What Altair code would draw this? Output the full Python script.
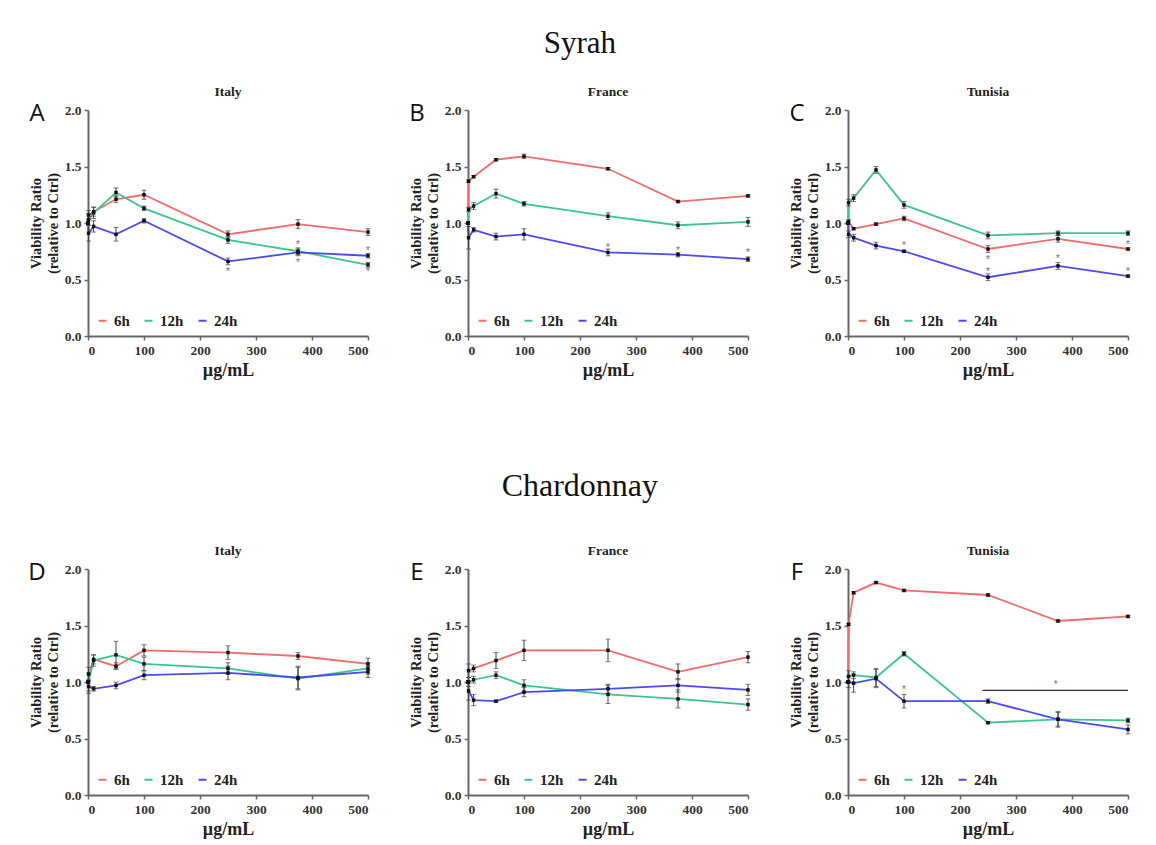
import altair as alt
import pandas as pd

SERIF = "Liberation Serif"
X = [0, 1, 10, 50, 100, 250, 375, 500]
SERIES = ["6h", "12h", "24h"]
COLORS = ["#F06B6B", "#3CC48E", "#4A4AF0"]
X_TICKS = [0, 100, 200, 300, 400, 500]
Y_TICKS = [0.0, 0.5, 1.0, 1.5, 2.0]

# ---- Syrah ----
A_6h = [1.00, 1.07, 1.10, 1.21, 1.25, 0.90, 0.99, 0.92]
A_12h = [1.00, 1.03, 1.09, 1.27, 1.13, 0.85, 0.75, 0.63]
A_24h = [1.00, 0.91, 0.97, 0.90, 1.02, 0.66, 0.74, 0.71]
A_6h_err = [0, 0.04, 0.04, 0.03, 0.04, 0.03, 0.04, 0.03]
A_12h_err = [0, 0.05, 0.05, 0.04, 0.02, 0.03, 0.03, 0.02]
A_24h_err = [0, 0.07, 0.05, 0.06, 0.02, 0.03, 0.03, 0.02]
A_star_x = [250, 375, 375, 500, 500]
A_star_y = [0.58, 0.82, 0.66, 0.77, 0.58]

B_6h = [1.00, 1.37, 1.41, 1.56, 1.59, 1.48, 1.19, 1.24]
B_12h = [1.00, 1.12, 1.15, 1.26, 1.17, 1.06, 0.98, 1.01]
B_24h = [1.00, 0.87, 0.94, 0.88, 0.90, 0.74, 0.72, 0.68]
B_6h_err = [0, 0.01, 0.01, 0.01, 0.02, 0.01, 0.01, 0.01]
B_12h_err = [0, 0.02, 0.03, 0.04, 0.02, 0.03, 0.03, 0.04]
B_24h_err = [0, 0.10, 0.02, 0.03, 0.05, 0.03, 0.02, 0.02]
B_star_x = [250, 375, 500]
B_star_y = [0.80, 0.77, 0.75]

C_6h = [1.00, 1.01, 0.95, 0.99, 1.04, 0.77, 0.86, 0.77]
C_12h = [1.00, 1.18, 1.22, 1.47, 1.16, 0.89, 0.91, 0.91]
C_24h = [1.00, 0.90, 0.87, 0.80, 0.75, 0.52, 0.62, 0.53]
C_6h_err = [0, 0.02, 0.01, 0.01, 0.02, 0.03, 0.03, 0.01]
C_12h_err = [0, 0.03, 0.03, 0.03, 0.03, 0.03, 0.02, 0.02]
C_24h_err = [0, 0.03, 0.03, 0.03, 0.01, 0.03, 0.03, 0.01]
C_star_x = [100, 250, 250, 375, 500, 500]
C_star_y = [0.81, 0.69, 0.58, 0.70, 0.82, 0.58]

# ---- Chardonnay ----
D_6h = [1.00, 1.07, 1.20, 1.14, 1.28, 1.26, 1.23, 1.16]
D_12h = [1.00, 1.00, 1.19, 1.24, 1.16, 1.12, 1.03, 1.12]
D_24h = [1.00, 0.96, 0.94, 0.97, 1.06, 1.08, 1.04, 1.09]
D_6h_err = [0, 0.06, 0.04, 0.03, 0.05, 0.06, 0.03, 0.05]
D_12h_err = [0, 0.08, 0.05, 0.12, 0.06, 0.05, 0.10, 0.05]
D_24h_err = [0, 0.06, 0.02, 0.03, 0.04, 0.06, 0.10, 0.05]
D_star_x = []
D_star_y = []

E_6h = [1.00, 1.10, 1.12, 1.19, 1.28, 1.28, 1.09, 1.22]
E_12h = [1.00, 1.00, 1.02, 1.06, 0.97, 0.89, 0.85, 0.80]
E_24h = [1.00, 0.92, 0.84, 0.83, 0.91, 0.94, 0.97, 0.93]
E_6h_err = [0, 0.06, 0.03, 0.07, 0.09, 0.10, 0.07, 0.05]
E_12h_err = [0, 0.04, 0.03, 0.03, 0.05, 0.08, 0.08, 0.05]
E_24h_err = [0, 0.08, 0.05, 0.01, 0.04, 0.04, 0.06, 0.05]
E_star_x = []
E_star_y = []

F_6h = [1.00, 1.51, 1.79, 1.88, 1.81, 1.77, 1.54, 1.58]
F_12h = [1.00, 1.05, 1.06, 1.04, 1.25, 0.64, 0.67, 0.66]
F_24h = [1.00, 1.00, 0.99, 1.03, 0.83, 0.83, 0.67, 0.58]
F_6h_err = [0, 0.01, 0.01, 0.01, 0.01, 0.01, 0.01, 0.01]
F_12h_err = [0, 0.05, 0.03, 0.08, 0.02, 0.01, 0.06, 0.02]
F_24h_err = [0, 0.05, 0.08, 0.08, 0.06, 0.02, 0.07, 0.04]
F_star_x = [100, 371]
F_star_y = [0.95, 0.99]
F_bracket_x = [240, 500]
F_bracket_y = 0.925


def panel(letter, country, s6, s12, s24, e6, e12, e24, star_x, star_y, bracket=None):
    rows = []
    for t, vals, errs in zip(SERIES, [s6, s12, s24], [e6, e12, e24]):
        for xv, v, e in zip(X, vals, errs):
            rows.append({"dose": xv, "time": t, "ratio": v, "err": e,
                         "lo": v - e, "hi": v + e})
    df = pd.DataFrame(rows)

    xscale = alt.Scale(domain=[0, 500], nice=False)
    yscale = alt.Scale(domain=[0, 2], nice=False)
    xaxis = alt.Axis(values=X_TICKS, title="µg/mL", grid=False)
    yaxis = alt.Axis(values=Y_TICKS, format=".1f", grid=False,
                     title=["Viability Ratio", "(relative to Ctrl)"])

    base = alt.Chart(df)
    color = alt.Color(
        "time:N",
        sort=SERIES,
        scale=alt.Scale(domain=SERIES, range=COLORS),
        legend=alt.Legend(
            orient="bottom-left", direction="horizontal", title=None,
            symbolType="stroke", symbolStrokeWidth=2, symbolSize=64,
            labelFont=SERIF, labelFontWeight="bold", labelFontSize=15,
            labelColor="#222", offset=7, columnPadding=10, padding=0,
            labelOffset=4,
        ),
    )
    lines = base.mark_line(strokeWidth=1.8).encode(
        x=alt.X("dose:Q", scale=xscale, axis=xaxis),
        y=alt.Y("ratio:Q", scale=yscale, axis=yaxis),
        color=color,
        order="dose:Q",
    )
    bars = base.transform_filter("datum.err > 0").mark_errorbar(
        ticks=True, color="#444", thickness=1
    ).encode(
        x=alt.X("dose:Q", scale=xscale, axis=xaxis),
        y=alt.Y("lo:Q", scale=yscale, axis=yaxis),
        y2="hi:Q",
    )
    dots = base.mark_square(size=12, color="#111", opacity=1).encode(
        x=alt.X("dose:Q", scale=xscale, axis=xaxis),
        y=alt.Y("ratio:Q", scale=yscale, axis=yaxis),
    )
    layers = [lines, bars, dots]

    if star_x:
        sdf = pd.DataFrame({"sx": star_x, "sy": star_y})
        stars = alt.Chart(sdf).mark_text(
            text="*", fontSize=11, color="#777", baseline="middle", dy=2
        ).encode(
            x=alt.X("sx:Q", scale=xscale, axis=xaxis),
            y=alt.Y("sy:Q", scale=yscale, axis=yaxis),
        )
        layers.append(stars)
    if bracket is not None:
        bdf = pd.DataFrame({"bx": [bracket[0][0]], "bx2": [bracket[0][1]], "by": [bracket[1]]})
        br = alt.Chart(bdf).mark_rule(color="#333", strokeWidth=1.3).encode(
            x=alt.X("bx:Q", scale=xscale, axis=xaxis),
            x2="bx2:Q",
            y=alt.Y("by:Q", scale=yscale, axis=yaxis),
        )
        layers.append(br)

    lab = alt.Chart(pd.DataFrame({"t": [letter]})).mark_text(
        font="Open Sans", fontSize=24, color="#111", align="center", baseline="middle"
    ).encode(text="t:N", x=alt.value(-51), y=alt.value(4))
    layers.append(lab)

    return alt.layer(*layers).properties(
        width=280, height=226,
        title=alt.TitleParams(country, font=SERIF, fontSize=13.5, fontWeight="bold",
                              color="#222", offset=4),
    )


pA = panel("A", "Italy", A_6h, A_12h, A_24h, A_6h_err, A_12h_err, A_24h_err, A_star_x, A_star_y)
pB = panel("B", "France", B_6h, B_12h, B_24h, B_6h_err, B_12h_err, B_24h_err, B_star_x, B_star_y)
pC = panel("C", "Tunisia", C_6h, C_12h, C_24h, C_6h_err, C_12h_err, C_24h_err, C_star_x, C_star_y)
pD = panel("D", "Italy", D_6h, D_12h, D_24h, D_6h_err, D_12h_err, D_24h_err, D_star_x, D_star_y)
pE = panel("E", "France", E_6h, E_12h, E_24h, E_6h_err, E_12h_err, E_24h_err, E_star_x, E_star_y)
pF = panel("F", "Tunisia", F_6h, F_12h, F_24h, F_6h_err, F_12h_err, F_24h_err, F_star_x, F_star_y,
           bracket=(F_bracket_x, F_bracket_y))

row1 = alt.hconcat(pA, pB, pC, spacing=36).properties(
    title=alt.TitleParams("Syrah", font=SERIF, fontSize=31, fontWeight="normal",
                          color="#111", anchor="middle", offset=25)
).resolve_scale(color="independent").resolve_legend(color="independent")
row2 = alt.hconcat(pD, pE, pF, spacing=36).properties(
    title=alt.TitleParams("Chardonnay", font=SERIF, fontSize=32, fontWeight="normal",
                          color="#111", anchor="middle", offset=41)
).resolve_scale(color="independent").resolve_legend(color="independent")

chart = alt.vconcat(row1, row2, spacing=89).resolve_scale(color="independent") \
    .resolve_legend(color="independent").properties(
        padding={"left": 20, "top": 19, "right": 2, "bottom": 2}
    ).configure_view(stroke=None).configure_axis(
        labelFont=SERIF, labelFontWeight="bold", labelFontSize=13.5, labelColor="#333",
        titleFont=SERIF, titleFontWeight="bold", titleColor="#222",
        domainColor="#666", domainWidth=2, tickColor="#666", tickWidth=1.5, tickSize=4,
        labelPadding=3,
    ).configure_axisX(titleFontSize=18, titlePadding=5) \
     .configure_axisY(titleFontSize=14.5, titlePadding=4, titleLineHeight=17)

chart.save("out.html", embed_options={"renderer": "svg", "actions": False})
